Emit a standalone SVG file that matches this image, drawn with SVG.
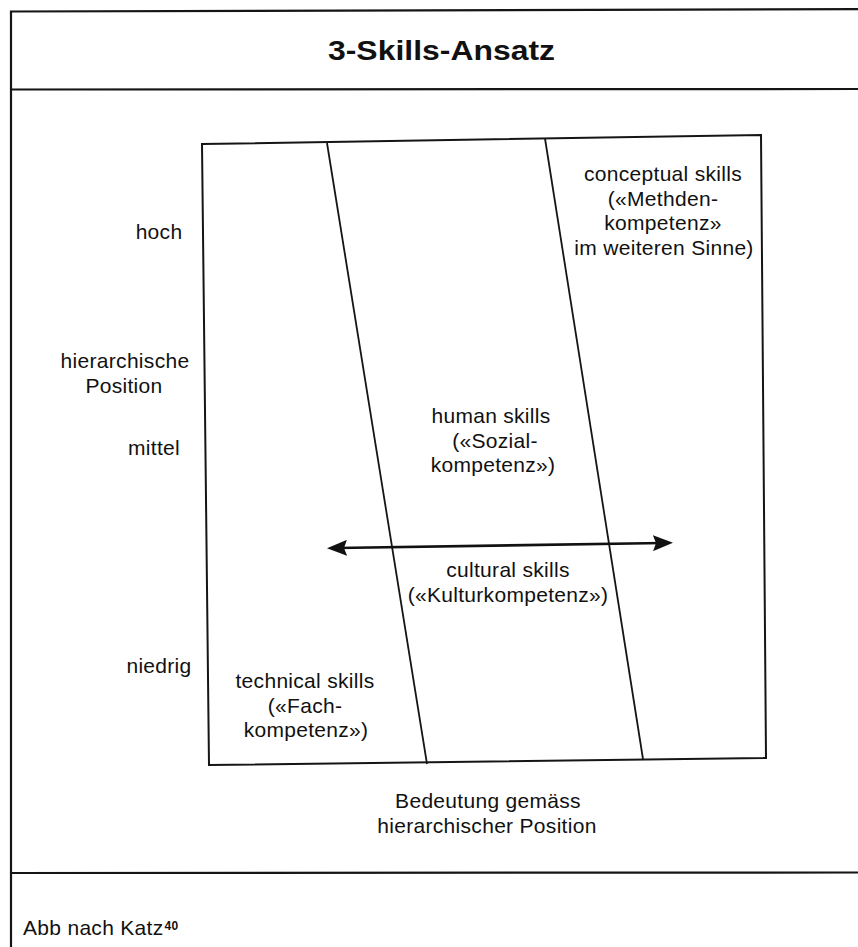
<svg xmlns="http://www.w3.org/2000/svg" width="858" height="947" viewBox="0 0 858 947">
  <style>
    .frame { fill: none; stroke: #151515; stroke-width: 2.2; }
    .box { fill: none; stroke: #151515; stroke-width: 2; stroke-linejoin: miter; }
    .div { fill: none; stroke: #151515; stroke-width: 1.8; }
    .arrow { fill: none; stroke: #111; stroke-width: 2.6; }
    text { font-family: "Liberation Sans", Arial, Helvetica, sans-serif; fill: #111; }
    .lbl { font-size: 21px; letter-spacing: 0.3px; text-anchor: middle; }
    .title { font-size: 27px; font-weight: bold; text-anchor: middle; }
  </style>
  <defs>
    <marker id="head" viewBox="0 0 20 16" refX="10" refY="8" markerWidth="20" markerHeight="16" markerUnits="userSpaceOnUse" orient="auto-start-reverse">
      <path d="M0,0 L20,8 L0,16 L3,8 Z" fill="#111"/>
    </marker>
  </defs>
  <rect width="858" height="947" fill="#ffffff"/>

  <g id="frame">
    <path class="frame" d="M11,990 L11,11.5 L870,9"/>
    <line class="frame" x1="11" y1="89.5" x2="870" y2="89"/>
    <line class="frame" x1="11" y1="873" x2="870" y2="872.5"/>
  </g>

  <g id="title">
    <text class="title" x="441.5" y="60" textLength="227" lengthAdjust="spacingAndGlyphs">3-Skills-Ansatz</text>
  </g>

  <g id="skills-field">
    <polygon class="box" points="202,144 761,135 766,758 209,765"/>
    <line class="div" x1="327" y1="143" x2="427" y2="764"/>
    <line class="div" x1="545" y1="138.5" x2="643" y2="759"/>
  </g>

  <g id="axis-labels">
    <text class="lbl" x="159" y="239">hoch</text>
    <text class="lbl" x="125" y="368">hierarchische</text>
    <text class="lbl" x="124" y="393">Position</text>
    <text class="lbl" x="154" y="455">mittel</text>
    <text class="lbl" x="159" y="673">niedrig</text>
  </g>

  <g id="conceptual-skills">
    <text class="lbl" x="663" y="181">conceptual skills</text>
    <text class="lbl" x="663" y="206">(«Methden-</text>
    <text class="lbl" x="663" y="230">kompetenz»</text>
    <text class="lbl" x="664" y="255">im weiteren Sinne)</text>
  </g>

  <g id="human-skills">
    <text class="lbl" x="491" y="423">human skills</text>
    <text class="lbl" x="495" y="448">(«Sozial-</text>
    <text class="lbl" x="493" y="472">kompetenz»)</text>
  </g>

  <g id="cultural-skills">
    <text class="lbl" x="508" y="577">cultural skills</text>
    <text class="lbl" x="508" y="602">(«Kulturkompetenz»)</text>
  </g>

  <g id="technical-skills">
    <text class="lbl" x="305" y="688">technical skills</text>
    <text class="lbl" x="305" y="713">(«Fach-</text>
    <text class="lbl" x="306" y="737">kompetenz»)</text>
  </g>

  <g id="x-axis-label">
    <text class="lbl" x="488" y="808">Bedeutung gemäss</text>
    <text class="lbl" x="487" y="833">hierarchischer Position</text>
  </g>

  <g id="connectors">
    <line class="arrow" x1="337" y1="548" x2="663" y2="543" marker-start="url(#head)" marker-end="url(#head)"/>
  </g>

  <g id="source">
    <text x="23" y="935" font-size="21" letter-spacing="0.3">Abb nach Katz<tspan font-size="12" font-weight="bold" dx="1" dy="-5">40</tspan></text>
  </g>
</svg>
